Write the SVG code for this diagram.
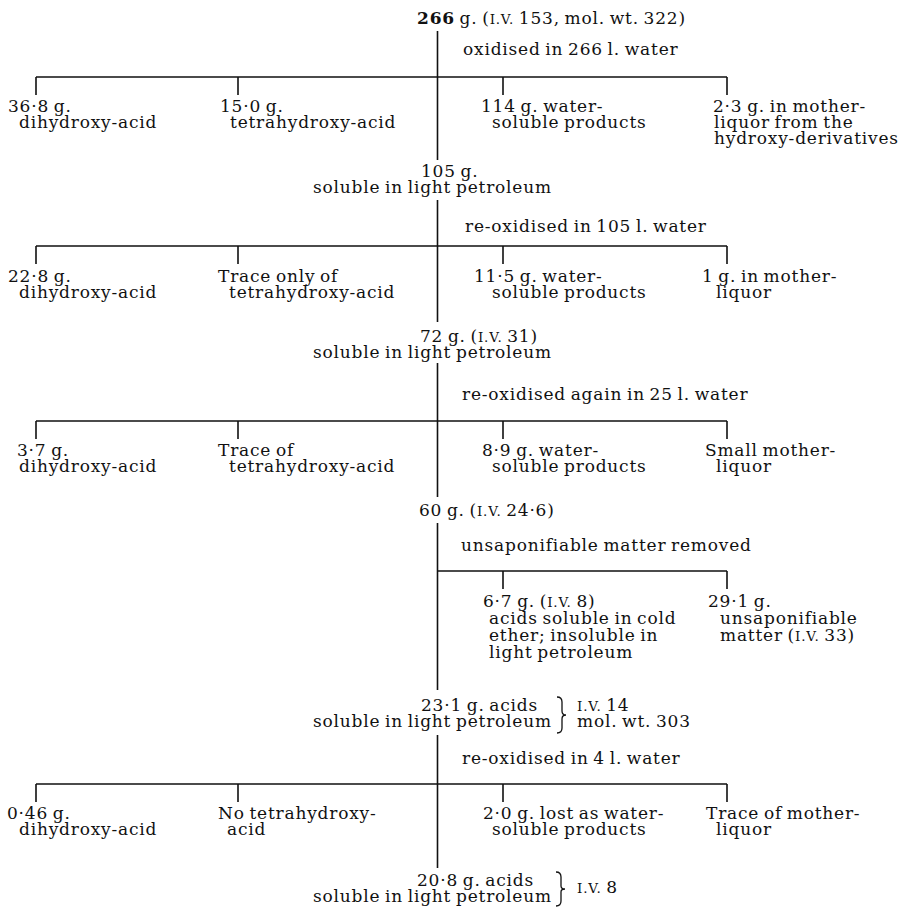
<svg xmlns="http://www.w3.org/2000/svg" width="915" height="909" viewBox="0 0 915 909">
<style>
text{font-family:"DejaVu Serif","Liberation Serif",serif;font-size:17px;letter-spacing:0.8px;word-spacing:-1.5px;fill:#111}
.sc{font-size:13.5px}
.b{font-weight:bold}
.ln{stroke:#111;stroke-width:1.6;fill:none}
</style>
<rect width="915" height="909" fill="#fff"/>
<g id="connectors" class="ln">
<path d="M437.5 31V160M437.5 200V322M437.5 363V497M437.5 523V690M437.5 735V868"/>
<path d="M36 77H727M36 77V95M238 77V95M503 77V95M727 77V95"/>
<path d="M36 246H727M36 246V264M238 246V264M503 246V264M727 246V264"/>
<path d="M36 421H727M36 421V439M238 421V439M503 421V439M727 421V439"/>
<path d="M437.5 571H727M503 571V589M727 571V589"/>
<path d="M36 784H727M36 784V802M238 784V802M503 784V802M727 784V802"/>
<path d="M557 697q5 0 5 5v9q0 4 4 4q-4 0 -4 4v9q0 5 -5 5" stroke-width="1.3"/>
<path d="M556 872q5 0 5 5v9q0 3 4 3q-4 0 -4 3v9q0 5 -5 5" stroke-width="1.3"/>
</g>
<g id="n266"><text x="417" y="24"><tspan class="b">266</tspan> g. (<tspan class="sc">I.V.</tspan> 153, mol. wt. 322)</text></g>
<g id="e1"><text x="463" y="55">oxidised in 266 l. water</text></g>
<g id="r1a"><text><tspan x="8" y="112">36·8 g.</tspan><tspan x="19" y="128">dihydroxy-acid</tspan></text></g>
<g id="r1b"><text><tspan x="220" y="112">15·0 g.</tspan><tspan x="230" y="128">tetrahydroxy-acid</tspan></text></g>
<g id="r1c"><text><tspan x="481" y="112">114 g. water-</tspan><tspan x="492" y="128">soluble products</tspan></text></g>
<g id="r1d"><text><tspan x="713" y="112">2·3 g. in mother-</tspan><tspan x="714" y="128">liquor from the</tspan><tspan x="714" y="144">hydroxy-derivatives</tspan></text></g>
<g id="n105"><text><tspan x="421" y="177">105 g.</tspan><tspan x="313" y="193">soluble in light petroleum</tspan></text></g>
<g id="e2"><text x="465" y="232">re-oxidised in 105 l. water</text></g>
<g id="r2a"><text><tspan x="8" y="282">22·8 g.</tspan><tspan x="19" y="298">dihydroxy-acid</tspan></text></g>
<g id="r2b"><text><tspan x="218" y="282">Trace only of</tspan><tspan x="229" y="298">tetrahydroxy-acid</tspan></text></g>
<g id="r2c"><text><tspan x="474" y="282">11·5 g. water-</tspan><tspan x="492" y="298">soluble products</tspan></text></g>
<g id="r2d"><text><tspan x="702" y="282">1 g. in mother-</tspan><tspan x="716" y="298">liquor</tspan></text></g>
<g id="n72"><text><tspan x="420" y="342">72 g. (<tspan class="sc">I.V.</tspan> 31)</tspan><tspan x="313" y="358">soluble in light petroleum</tspan></text></g>
<g id="e3"><text x="462" y="400">re-oxidised again in 25 l. water</text></g>
<g id="r3a"><text><tspan x="17" y="456">3·7 g.</tspan><tspan x="19" y="472">dihydroxy-acid</tspan></text></g>
<g id="r3b"><text><tspan x="218" y="456">Trace of</tspan><tspan x="229" y="472">tetrahydroxy-acid</tspan></text></g>
<g id="r3c"><text><tspan x="482" y="456">8·9 g. water-</tspan><tspan x="492" y="472">soluble products</tspan></text></g>
<g id="r3d"><text><tspan x="705" y="456">Small mother-</tspan><tspan x="716" y="472">liquor</tspan></text></g>
<g id="n60"><text x="419" y="516">60 g. (<tspan class="sc">I.V.</tspan> 24·6)</text></g>
<g id="e4"><text x="461" y="551">unsaponifiable matter removed</text></g>
<g id="r4a"><text><tspan x="483" y="607">6·7 g. (<tspan class="sc">I.V.</tspan> 8)</tspan><tspan x="489" y="624">acids soluble in cold</tspan><tspan x="489" y="641">ether; insoluble in</tspan><tspan x="489" y="658">light petroleum</tspan></text></g>
<g id="r4b"><text><tspan x="708" y="607">29·1 g.</tspan><tspan x="720" y="624">unsaponifiable</tspan><tspan x="720" y="641">matter (<tspan class="sc">I.V.</tspan> 33)</tspan></text></g>
<g id="n23"><text><tspan x="421" y="711">23·1 g. acids</tspan><tspan x="313" y="727">soluble in light petroleum</tspan></text><text><tspan x="577" y="711"><tspan class="sc">I.V.</tspan> 14</tspan><tspan x="577" y="727">mol. wt. 303</tspan></text></g>
<g id="e5"><text x="462" y="764">re-oxidised in 4 l. water</text></g>
<g id="r5a"><text><tspan x="7" y="819">0·46 g.</tspan><tspan x="19" y="835">dihydroxy-acid</tspan></text></g>
<g id="r5b"><text><tspan x="218" y="819">No tetrahydroxy-</tspan><tspan x="227" y="835">acid</tspan></text></g>
<g id="r5c"><text><tspan x="483" y="819">2·0 g. lost as water-</tspan><tspan x="492" y="835">soluble products</tspan></text></g>
<g id="r5d"><text><tspan x="706" y="819">Trace of mother-</tspan><tspan x="716" y="835">liquor</tspan></text></g>
<g id="n20"><text><tspan x="417" y="886">20·8 g. acids</tspan><tspan x="313" y="902">soluble in light petroleum</tspan></text><text x="577" y="893"><tspan class="sc">I.V.</tspan> 8</text></g>
</svg>
